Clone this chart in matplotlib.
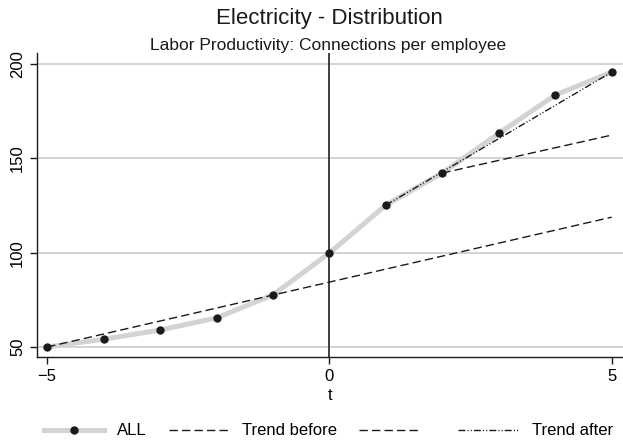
import numpy as np
import matplotlib
matplotlib.use("Agg")
import matplotlib.pyplot as plt

plt.rcParams['font.family'] = ['Liberation Sans', 'DejaVu Sans']

# data
t = [-5, -4, -3, -2, -1, 0, 1, 2, 3, 4, 5]
all_vals = [50.0, 54.1, 59.0, 65.4, 77.6, 99.8, 125.2, 142.2, 163.2, 183.5, 195.7]

trend_before_t = [-5, 5]
trend_before = [50.0, 118.8]

trend_mid_t = [2, 5]
trend_mid = [142.2, 162.3]

trend_after_t = [1, 5]
trend_after = [125.2, 195.7]

yticks = [50, 100, 150, 200]
xticks = [-5, 0, 5]

fig = plt.figure(figsize=(6.23, 4.41), dpi=100)
ax = fig.add_axes([0.0594, 0.1905, 0.9406, 0.6893])

for y in yticks:
    ax.axhline(y, color="#d3d3d3", lw=1.4, zorder=0)
ax.axvline(0, color="#303030", lw=1.3, zorder=1)

ax.plot(t, all_vals, color="#d3d3d3", lw=3.6, marker="o", ms=5,
        mfc="#1a1a1a", mec="#1a1a1a", label="ALL", zorder=3)
ax.plot(trend_before_t, trend_before, color="#1a1a1a", lw=1.0,
        dashes=(6, 3), label="Trend before", zorder=4)
ax.plot(trend_mid_t, trend_mid, color="#1a1a1a", lw=1.0,
        dashes=(6, 3), label=" ", zorder=4)
ax.plot(trend_after_t, trend_after, color="#1a1a1a", lw=1.0,
        dashes=(5, 1.5, 0.8, 1.5, 0.8, 1.5), label="Trend after", zorder=4)

ax.set_xlim(-5.18, 5.2)
ax.set_ylim(44.7, 205.8)
ax.set_xticks(xticks)
ax.set_yticks(yticks)
ax.tick_params(axis="both", labelsize=12, length=5, width=1, color="#1a1a1a")
for lab in ax.get_yticklabels():
    lab.set_rotation(90)
    lab.set_va("center")
ax.set_xlabel("t", fontsize=12, labelpad=3)

for side in ["top", "right"]:
    ax.spines[side].set_visible(False)
for side in ["left", "bottom"]:
    ax.spines[side].set_color("#1a1a1a")
    ax.spines[side].set_linewidth(1.0)

fig.text(0.529, 0.959, "Electricity - Distribution", ha="center", va="center",
         fontsize=16, color="#1a1a1a")
fig.text(0.526, 0.897, "Labor Productivity: Connections per employee",
         ha="center", va="center", fontsize=12.5, color="#1a1a1a")

fig.legend(loc="center", bbox_to_anchor=(0.527, 0.023), ncol=4, frameon=False,
           fontsize=12, handlelength=3.6, columnspacing=1.3, handletextpad=0.8)

fig.savefig("out.png", dpi=100)
